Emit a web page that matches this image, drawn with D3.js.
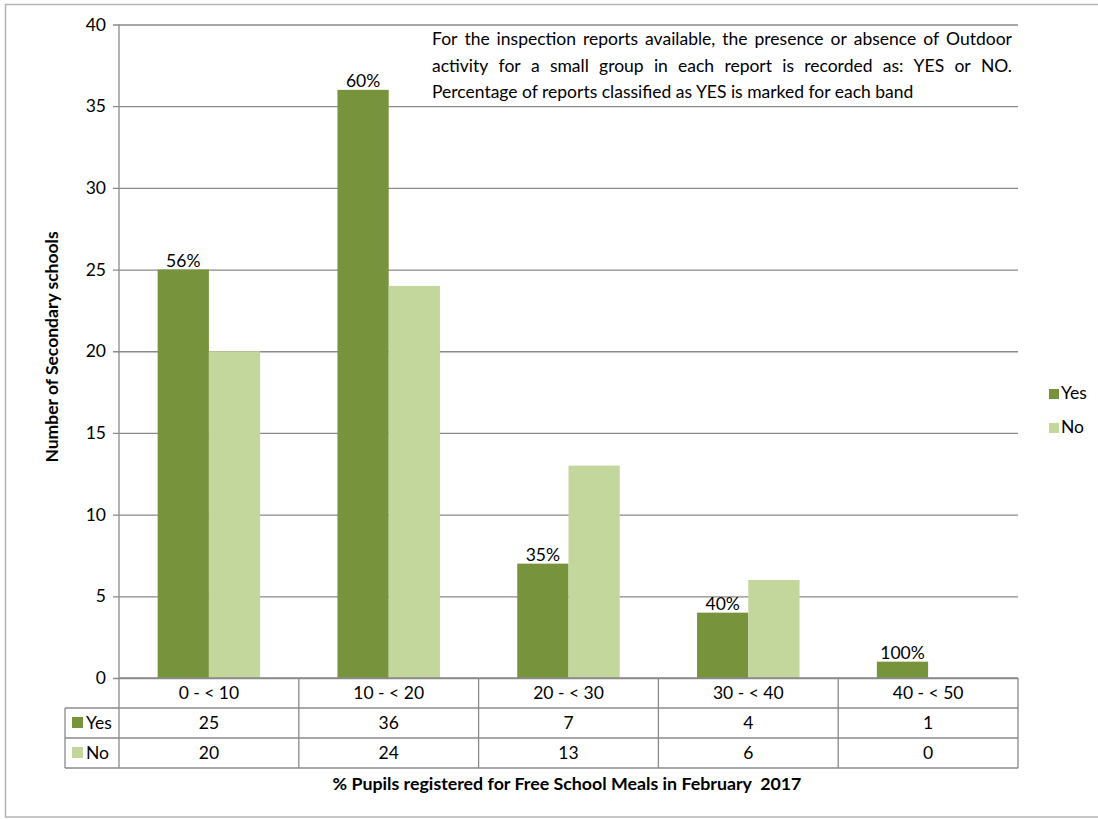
<!DOCTYPE html>
<html>
<head>
<meta charset="utf-8">
<script src="https://cdn.jsdelivr.net/npm/d3@7"></script>
<style>
  html, body { margin: 0; padding: 0; background: #fff; }
  svg text { font-family: Lato, "Open Sans", sans-serif; fill: #000; }
</style>
</head>
<body>
<svg id="chart" width="1098" height="819"></svg>
<script>
// Free School Meals bands and inspection outcomes
const categories = ["0 - < 10", "10 - < 20", "20 - < 30", "30 - < 40", "40 - < 50"];
const seriesNames = ["Yes", "No"];
const yesValues = [25, 36, 7, 4, 1];
const noValues = [20, 24, 13, 6, 0];
const yTicks = [0, 5, 10, 15, 20, 25, 30, 35, 40];
const noteLines = [
  "For the inspection reports available, the presence or absence of Outdoor",
  "activity for a small group in each report is recorded as: YES or NO.",
  "Percentage of reports classified as YES is marked for each band"
];
const yTitle = "Number of Secondary schools";
const xTitle = "% Pupils registered for Free School Meals in February  2017";

const colors = { Yes: "#77933C", No: "#C3D69B" };
const gridColor = "#8a8a8a";
const fs = 17.5;

const svg = d3.select("#chart");

// outer frame
svg.append("rect")
  .attr("x", 5.5).attr("y", 4.5).attr("width", 1100).attr("height", 812.5)
  .attr("fill", "none").attr("stroke", "#b4b4b4").attr("stroke-width", 1.5);

const plot = { left: 119, right: 1018, top: 24.5, bottom: 678 };
const rowH = 30;

const y = d3.scaleLinear().domain([0, 40]).range([plot.bottom, plot.top]);
const x0 = d3.scaleBand().domain(categories).range([plot.left, plot.right]);
const bw = x0.bandwidth();
const x1 = d3.scaleBand().domain(seriesNames).range([bw * 0.215, bw * 0.785]);

// gridlines with ticks and labels
const yAxis = d3.axisLeft(y).tickValues(yTicks).tickSize(-(plot.right - plot.left)).tickSizeOuter(0).tickPadding(13);
const gAxis = svg.append("g").attr("transform", `translate(${plot.left},0)`).call(yAxis);
gAxis.select(".domain").remove();
gAxis.selectAll(".tick line").attr("stroke", gridColor).attr("stroke-width", 1.3).attr("x1", -6);
gAxis.selectAll(".tick text")
  .attr("font-size", fs).attr("fill", "#000")
  .style("font-family", "Lato, 'Open Sans', sans-serif");

// bars
const data = categories.map((c, i) => ({ cat: c, Yes: yesValues[i], No: noValues[i] }));
const groups = svg.append("g").selectAll("g").data(data).join("g")
  .attr("transform", d => `translate(${x0(d.cat)},0)`);
groups.selectAll("rect")
  .data(d => seriesNames.map(s => ({ s, v: d[s] })))
  .join("rect")
  .attr("x", d => x1(d.s))
  .attr("width", x1.bandwidth())
  .attr("y", d => y(d.v))
  .attr("height", d => y(0) - y(d.v))
  .attr("fill", d => colors[d.s]);

// share of YES reports above each Yes bar
groups.append("text")
  .attr("x", x1("Yes") + x1.bandwidth() / 2)
  .attr("y", d => y(d.Yes) - 3)
  .attr("text-anchor", "middle")
  .attr("font-size", fs)
  .text(d => Math.round(d.Yes / (d.Yes + d.No) * 100) + "%");

// y axis line (runs down through the category row of the table)
svg.append("line")
  .attr("x1", plot.left).attr("x2", plot.left)
  .attr("y1", plot.top).attr("y2", plot.bottom + rowH * 3)
  .attr("stroke", gridColor).attr("stroke-width", 1.3);

// data table under the plot
const tbl = svg.append("g").attr("stroke", gridColor).attr("stroke-width", 1.3).attr("fill", "none");
const tLeft = 65;
const rowsY = [plot.bottom, plot.bottom + rowH, plot.bottom + 2 * rowH, plot.bottom + 3 * rowH];
tbl.append("line").attr("x1", plot.left).attr("x2", plot.right).attr("y1", rowsY[0]).attr("y2", rowsY[0]);
[1, 2, 3].forEach(k => {
  tbl.append("line").attr("x1", tLeft).attr("x2", plot.right).attr("y1", rowsY[k]).attr("y2", rowsY[k]);
});
tbl.append("line").attr("x1", tLeft).attr("x2", tLeft).attr("y1", rowsY[1]).attr("y2", rowsY[3]);
categories.forEach(c => {
  const xr = x0(c) + bw;
  tbl.append("line").attr("x1", xr).attr("x2", xr).attr("y1", rowsY[0]).attr("y2", rowsY[3]);
});

const tText = svg.append("g").attr("font-size", fs).attr("text-anchor", "middle");
categories.forEach((c, i) => {
  const cx = x0(c) + bw / 2;
  tText.append("text").attr("x", cx).attr("y", rowsY[0] + 21).text(c);
  tText.append("text").attr("x", cx).attr("y", rowsY[1] + 21).text(yesValues[i]);
  tText.append("text").attr("x", cx).attr("y", rowsY[2] + 21).text(noValues[i]);
});
seriesNames.forEach((s, k) => {
  svg.append("rect").attr("x", 72).attr("y", rowsY[k + 1] + 9).attr("width", 11).attr("height", 11).attr("fill", colors[s]);
  svg.append("text").attr("x", 86).attr("y", rowsY[k + 1] + 21).attr("font-size", fs).text(s);
});

// legend on the right
seriesNames.forEach((s, k) => {
  const ly = 389 + k * 34;
  svg.append("rect").attr("x", 1049).attr("y", ly).attr("width", 10).attr("height", 10).attr("fill", colors[s]);
  svg.append("text").attr("x", 1061).attr("y", ly + 10).attr("font-size", fs).text(s);
});

// axis titles
svg.append("text")
  .attr("transform", "translate(58,347) rotate(-90)")
  .attr("text-anchor", "middle").attr("font-size", 17.5).attr("font-weight", "bold")
  .text(yTitle);
svg.append("text")
  .attr("x", 567).attr("y", 790)
  .attr("text-anchor", "middle").attr("font-size", 17.8).attr("font-weight", "bold")
  .style("white-space", "pre")
  .text(xTitle);

// note box: first two lines justified, last line left aligned
const note = svg.append("g").attr("font-size", fs);
const noteLeft = 432, noteRight = 1012, noteY0 = 45, noteDy = 26.5;
noteLines.forEach((line, li) => {
  const yy = noteY0 + li * noteDy;
  if (li === noteLines.length - 1) {
    note.append("text").attr("x", noteLeft).attr("y", yy).text(line);
    return;
  }
  const words = line.split(" ");
  const nodes = words.map(w => note.append("text").attr("y", yy).text(w));
  const widths = nodes.map(n => n.node().getComputedTextLength());
  const gap = (noteRight - noteLeft - d3.sum(widths)) / (words.length - 1);
  let xx = noteLeft;
  nodes.forEach((n, i) => { n.attr("x", xx); xx += widths[i] + gap; });
});
</script>
</body>
</html>
